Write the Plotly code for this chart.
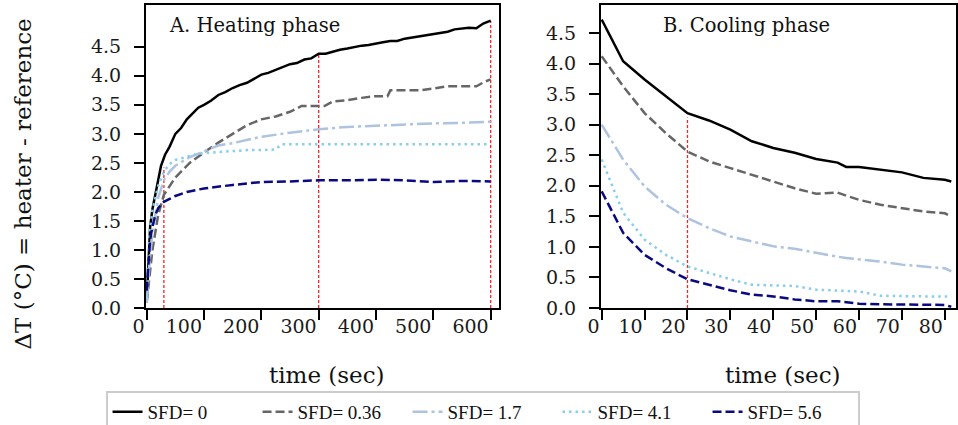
import plotly.graph_objects as go

# ---------------- data ----------------
series_names = ["SFD= 0", "SFD= 0.36", "SFD= 1.7", "SFD= 4.1", "SFD= 5.6"]

# Heating phase
heat_t_0 = [0, 3, 6, 10, 15, 20, 25, 32, 40, 50, 60, 70, 80, 90, 100, 112, 125, 137, 150, 162, 175, 187, 200,
            212, 225, 237, 250, 262, 275, 287, 300, 312, 325, 337, 350, 362, 375, 387, 400, 412, 425, 437, 450,
            462, 475, 487, 500, 512, 525, 537, 550, 562, 575, 587, 600]
heat_v_0 = [0.1, 0.9, 1.4, 1.7, 1.95, 2.2, 2.45, 2.64, 2.78, 3.0, 3.1, 3.25, 3.35, 3.45, 3.5, 3.57, 3.67, 3.72, 3.79,
            3.84, 3.88, 3.95, 4.02, 4.05, 4.1, 4.14, 4.2, 4.22, 4.28, 4.3, 4.38, 4.38, 4.42, 4.45, 4.47, 4.5, 4.52,
            4.53, 4.56, 4.58, 4.6, 4.6, 4.64, 4.66, 4.68, 4.7, 4.73, 4.74, 4.76, 4.8, 4.82, 4.83, 4.82, 4.9, 4.95]

heat_t_036 = [0, 5, 10, 20, 30, 40, 50, 60, 75, 100, 125, 150, 175, 200, 225, 250, 270, 300, 310, 325, 350, 375,
              400, 420, 425, 450, 475, 500, 525, 550, 575, 590, 600]
heat_v_036 = [0.1, 0.5, 1.0, 1.6, 1.95, 2.1, 2.25, 2.35, 2.5, 2.68, 2.85, 3.0, 3.15, 3.25, 3.3, 3.38, 3.48, 3.48,
              3.48, 3.56, 3.58, 3.62, 3.65, 3.65, 3.75, 3.75, 3.75, 3.78, 3.82, 3.82, 3.82, 3.9, 3.94]

heat_t_17 = [0, 5, 10, 20, 30, 40, 50, 75, 100, 125, 150, 200, 250, 300, 350, 400, 450, 500, 550, 600]
heat_v_17 = [0.1, 0.8, 1.3, 1.9, 2.2, 2.35, 2.45, 2.6, 2.7, 2.8, 2.84, 2.95, 3.02, 3.08, 3.12, 3.14, 3.17, 3.18,
             3.19, 3.21]

heat_t_41 = [0, 5, 10, 20, 30, 40, 50, 60, 75, 100, 125, 150, 175, 200, 225, 235, 250, 300, 400, 500, 600]
heat_v_41 = [0.2, 1.3, 1.69, 2.1, 2.35, 2.48, 2.55, 2.58, 2.62, 2.67, 2.69, 2.7, 2.72, 2.72, 2.73, 2.82, 2.82,
             2.83, 2.83, 2.82, 2.82]

heat_t_56 = [0, 3, 6, 10, 15, 20, 30, 40, 50, 70, 100, 150, 200, 250, 300, 350, 400, 450, 500, 550, 600]
heat_v_56 = [0.3, 0.8, 1.18, 1.4, 1.6, 1.72, 1.83, 1.88, 1.93, 2.0, 2.06, 2.12, 2.17, 2.18, 2.2, 2.2, 2.21, 2.2,
             2.17, 2.19, 2.18]

# Cooling phase
cool_t = [0, 5, 10, 15, 20, 25, 30, 35, 40, 45, 50, 55, 57, 60, 65, 70, 75, 80, 81.5]
cool_v_0 = [4.72, 4.04, 3.74, 3.46, 3.19, 3.07, 2.92, 2.73, 2.62, 2.54, 2.44, 2.38, 2.31, 2.31, 2.26, 2.22, 2.13,
            2.10, 2.07]
cool_v_036 = [4.12, 3.63, 3.19, 2.86, 2.56, 2.40, 2.29, 2.18, 2.07, 1.96, 1.87, 1.89, 1.84, 1.77, 1.69, 1.64, 1.58,
              1.55, 1.50]
cool_v_17 = [3.0, 2.43, 1.99, 1.69, 1.47, 1.31, 1.17, 1.09, 1.01, 0.97, 0.90, 0.84, 0.82, 0.80, 0.76, 0.71, 0.68,
             0.65, 0.60]
cool_v_41 = [2.43, 1.56, 1.12, 0.87, 0.68, 0.57, 0.47, 0.38, 0.37, 0.36, 0.30, 0.28, 0.27, 0.27, 0.20, 0.19, 0.19,
             0.19, 0.19]
cool_v_56 = [1.91, 1.23, 0.87, 0.65, 0.47, 0.38, 0.29, 0.22, 0.19, 0.14, 0.11, 0.11, 0.09, 0.07, 0.06, 0.06, 0.05,
             0.05, 0.02]

# Red marker lines (time, height)
heat_mark_t = [30, 300, 600]
heat_mark_v = [2.42, 4.38, 4.95]
cool_mark_t = [20]
cool_mark_v = [3.12]

y_ticks = [0.0, 0.5, 1.0, 1.5, 2.0, 2.5, 3.0, 3.5, 4.0, 4.5]
heat_x_ticks = [0, 100, 200, 300, 400, 500, 600]
cool_x_ticks = [0, 10, 20, 30, 40, 50, 60, 70, 80]

# ---------------- styles ----------------
colors = ["#000000", "#666666", "#adc3e0", "#87ceeb", "#0a0a80"]
dashes = ["solid", "9px,4px", "15px,4px,3px,4px", "2.5px,4px", "9px,4px"]
LW = 2.5

heat_t = [heat_t_0, heat_t_036, heat_t_17, heat_t_41, heat_t_56]
heat_v = [heat_v_0, heat_v_036, heat_v_17, heat_v_41, heat_v_56]
cool_v = [cool_v_0, cool_v_036, cool_v_17, cool_v_41, cool_v_56]

fig = go.Figure()

# red dashed vertical markers
for t, v in zip(heat_mark_t, heat_mark_v):
    fig.add_trace(go.Scatter(x=[t, t], y=[0, v], mode="lines", xaxis="x", yaxis="y",
                             line=dict(color="#ff2020", width=1.3, dash="3px,2px"), showlegend=False,
                             hoverinfo="skip"))
for t, v in zip(cool_mark_t, cool_mark_v):
    fig.add_trace(go.Scatter(x=[t, t], y=[0, v], mode="lines", xaxis="x2", yaxis="y2",
                             line=dict(color="#ff2020", width=1.3, dash="3px,2px"), showlegend=False,
                             hoverinfo="skip"))

for i, name in enumerate(series_names):
    fig.add_trace(go.Scatter(x=heat_t[i], y=heat_v[i], mode="lines", name=name, xaxis="x", yaxis="y",
                             line=dict(color=colors[i], width=LW, dash=dashes[i]), showlegend=True))
    fig.add_trace(go.Scatter(x=cool_t, y=cool_v[i], mode="lines", name=name, xaxis="x2", yaxis="y2",
                             line=dict(color=colors[i], width=LW, dash=dashes[i]), showlegend=False))

W, H = 958, 425
ML, MR, MT, MB = 0, 0, 5, 117
plot_h = H - MT - MB

tickfont = dict(family="DejaVu Serif", size=19, color="#1a1a1a")
axis_common = dict(showline=True, linecolor="black", linewidth=2, mirror=True, ticks="outside",
                   ticklen=10, tickwidth=2, tickcolor="black", showgrid=False, zeroline=False,
                   tickfont=tickfont, automargin=False)

fig.update_layout(
    width=W, height=H,
    margin=dict(l=ML, r=MR, t=MT, b=MB, autoexpand=False),
    paper_bgcolor="white", plot_bgcolor="white",
    xaxis=dict(domain=[146 / W, 499 / W], range=[-1.2, 614.5], tickvals=heat_x_ticks,
               ticklabelposition="outside left", anchor="y", **axis_common),
    yaxis=dict(domain=[0, 1], range=[0, 5.22], tickvals=y_ticks, tickformat=".1f",
               ticklabelstandoff=9, anchor="x", **axis_common),
    xaxis2=dict(domain=[601 / W, 956 / W], range=[-0.16, 82.6], tickvals=cool_x_ticks,
                ticklabelposition="outside left", anchor="y2", **axis_common),
    yaxis2=dict(domain=[0, 1], range=[0, 4.96], tickvals=y_ticks, tickformat=".1f",
                ticklabelstandoff=9, anchor="x2", **axis_common),
    legend=dict(orientation="h", xref="container", yref="container", x=0.5037, xanchor="center",
                y=(H - 391) / H, yanchor="top",
                font=dict(family="Liberation Serif", size=19, color="#111111"),
                bordercolor="#cccccc", borderwidth=2, bgcolor="white",
                entrywidth=105, entrywidthmode="pixels", tracegroupgap=0),
    showlegend=True,
)

ann_font = dict(family="DejaVu Serif", size=19.5, color="#111111")
title_font = dict(family="DejaVu Serif", size=23, color="#111111")
fig.add_annotation(text="A. Heating phase", xref="paper", yref="paper", x=(167 - ML) / W, y=(308 - 25) / plot_h,
                   xanchor="left", yanchor="middle", showarrow=False, font=ann_font)
fig.add_annotation(text="B. Cooling phase", xref="paper", yref="paper", x=(661 - ML) / W, y=(308 - 25) / plot_h,
                   xanchor="left", yanchor="middle", showarrow=False, font=ann_font)
fig.add_annotation(text="time (sec)", xref="paper", yref="paper", x=327 / W, y=(308 - 375) / plot_h,
                   xanchor="center", yanchor="middle", showarrow=False, font=title_font)
fig.add_annotation(text="time (sec)", xref="paper", yref="paper", x=783 / W, y=(308 - 375) / plot_h,
                   xanchor="center", yanchor="middle", showarrow=False, font=title_font)
fig.add_annotation(text="ΔT (°C) = heater - reference", xref="paper", yref="paper", x=22 / W,
                   y=(308 - 184.5) / plot_h, xanchor="center", yanchor="middle", textangle=-90,
                   showarrow=False, font=title_font)

fig.write_html("out.html", config={"displayModeBar": False},
               post_script="document.body.style.margin='0px';")
